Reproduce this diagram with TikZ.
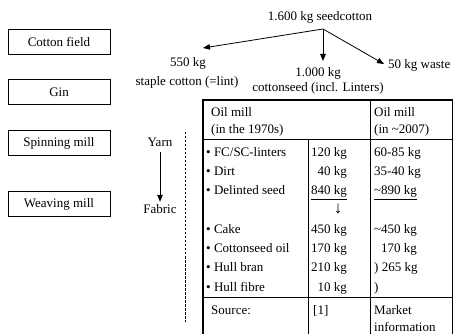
\documentclass[tikz,border=0pt]{standalone}
\usepackage{fontspec}
\setmainfont{Liberation Serif}
\usetikzlibrary{arrows.meta}
\begin{document}
\begin{tikzpicture}[x=1pt,y=-1pt,
  font=\fontsize{13}{15}\selectfont,
  stage/.style={draw, line width=0.7pt, minimum width=102pt, minimum height=25pt, inner sep=0},
  txt/.style={inner sep=0, anchor=base west},
  txtc/.style={inner sep=0, anchor=base},
  txtr/.style={inner sep=0, anchor=base east},
  arr/.style={line width=0.8pt, -{Triangle[length=7pt,width=5.5pt]}},
  thick frame/.style={line width=2pt},
  rule/.style={line width=0.9pt}]
\useasboundingbox (0,0) rectangle (453,334);
% left stages
\node[stage] (cf) at (59,41.5) {Cotton field};
\node[stage] (gin) at (59,92) {Gin};
\node[stage] (sp) at (59,143) {Spinning mill};
\node[stage] (wv) at (59,204) {Weaving mill};
% yarn -> fabric
\node[txtc] (yarn) at (160,147) {Yarn};
\node[txtc] (fabric) at (160,214) {Fabric};
\draw[arr] ([yshift=-5pt]yarn.south) -- ([yshift=3pt]fabric.north);
\coordinate (dtop) at (185,132);
\coordinate (dbot) at (185,322);
\draw[line width=0.8pt, dash pattern=on 2.5pt off 1.5pt] (dtop) -- (dbot);
% top flows
\node[txtc] (seed) at (320,21) {1.600 kg seedcotton};
\coordinate (j) at (323,29);
\coordinate (lt) at (203,48);
\coordinate (rt) at (384,64);
\coordinate (dt) at (323,61);
\draw[arr] (j) -- (lt);
\draw[arr] (j) -- (rt);
\draw[arr] (j) -- (dt);
\node[txtc] (k550) at (188,67) {550 kg};
\node[txtc] (staple) at (187,86) {staple cotton (=lint)};
\node[txt] (waste) at (388,69) {50 kg waste};
\node[txtc] (k1000) at (318,77) {1.000 kg};
\node[txtc] (cseed) at (318,92) {cottonseed (incl. Linters)};
% table lines
\draw[rule] (203,139) -- (452,139);
\draw[rule] (203,297) -- (452,297);
\draw[rule] (308,139) -- (308,334);
\draw[rule] (370,100) -- (370,334);
\draw[rule] (452,100) -- (452,334);
\draw[thick frame] (202,100) -- (452.5,100);
\draw[thick frame] (203,99) -- (203,334);
% header
\node[txt] (h1a) at (211,117) {Oil mill};
\node[txt] (h1b) at (211,134) {(in the 1970s)};
\node[txt] (h2a) at (374,117) {Oil mill};
\node[txt] (h2b) at (374,134) {(in \textasciitilde2007)};
% rows
\node[txt] (r1) at (206,157) {\textbullet\ FC/SC-linters};
\node[txt] (r2) at (206,176) {\textbullet\ Dirt};
\node[txt] (r3) at (206,195) {\textbullet\ Delinted seed};
\node[txt] (r4) at (206,234) {\textbullet\ Cake};
\node[txt] (r5) at (206,253) {\textbullet\ Cottonseed oil};
\node[txt] (r6) at (206,272) {\textbullet\ Hull bran};
\node[txt] (r7) at (206,291) {\textbullet\ Hull fibre};
\node[txtr] (a1) at (347,157) {120 kg};
\node[txtr] (a2) at (347,176) {40 kg};
\node[txtr] (a3) at (347,195) {\underline{840 kg}};
\node[txtc] (a4) at (338,214) {\fontsize{17}{17}\selectfont ↓};
\node[txtr] (a5) at (347,234) {450 kg};
\node[txtr] (a6) at (347,253) {170 kg};
\node[txtr] (a7) at (347,272) {210 kg};
\node[txtr] (a8) at (347,291) {10 kg};
\node[txt] (b1) at (374,157) {60-85 kg};
\node[txt] (b2) at (374,176) {35-40 kg};
\node[txt] (b3) at (374,195) {\underline{\textasciitilde890 kg}};
\node[txt] (b5) at (374,234) {\textasciitilde450 kg};
\node[txt] (b6) at (381,253) {170 kg};
\node[txt] (b7) at (374,272) {) 265 kg};
\node[txt] (b8) at (374,291) {)};
% source
\node[txt] (s1) at (211,314) {Source:};
\node[txt] (s2) at (313,314) {[1]};
\node[txt] (s3a) at (374,314) {Market};
\node[txt] (s3b) at (374,331) {information};
\end{tikzpicture}
\end{document}
